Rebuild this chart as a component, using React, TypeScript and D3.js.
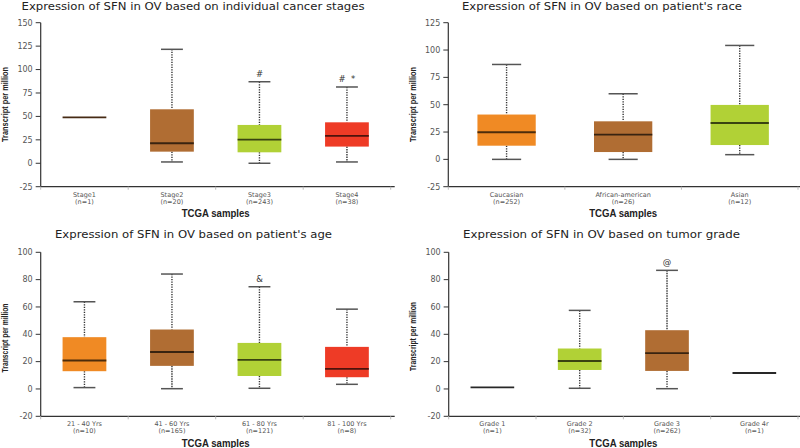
import React from "react";
import * as d3 from "d3";

const ORANGE = "#F08A24";
const BROWN = "#B06D33";
const GREEN = "#B1D136";
const RED = "#EE3B26";

// Panel 1: cancer stages
const stageCats = ["Stage1", "Stage2", "Stage3", "Stage4"];
const stageN = [1, 20, 243, 38];
const stageMin = [49, 1.4, 0, 1.4];
const stageQ1 = [49, 12.4, 11.7, 17.8];
const stageMed = [49, 21.3, 25.2, 29.2];
const stageQ3 = [49, 57.6, 40.9, 43.7];
const stageMax = [49, 121.6, 87, 81.4];
const stageMarks = ["", "", "#", "#  *"];
const stageTicks = [-25, 0, 25, 50, 75, 100, 125, 150];

// Panel 2: race
const raceCats = ["Caucasian", "African-american", "Asian"];
const raceN = [252, 26, 12];
const raceMin = [0, 0, 4.3];
const raceQ1 = [12.5, 6.7, 13.1];
const raceMed = [24.8, 22.6, 33.3];
const raceQ3 = [41, 34.8, 49.8];
const raceMax = [86.8, 60, 104.2];
const raceMarks = ["", "", ""];
const raceTicks = [-25, 0, 25, 50, 75, 100, 125];

// Panel 3: age
const ageCats = ["21 - 40 Yrs", "41 - 60 Yrs", "61 - 80 Yrs", "81 - 100 Yrs"];
const ageN = [10, 165, 121, 8];
const ageMin = [1, 0.2, 0.5, 3.4];
const ageQ1 = [13, 16.9, 9.5, 8.6];
const ageMed = [20.8, 27.1, 21.3, 14.7];
const ageQ3 = [37.9, 43.5, 33.7, 30.8];
const ageMax = [63.8, 84.1, 74.8, 58.4];
const ageMarks = ["", "", "&", ""];
const ageTicks = [-20, 0, 20, 40, 60, 80, 100];

// Panel 4: tumor grade
const gradeCats = ["Grade 1", "Grade 2", "Grade 3", "Grade 4r"];
const gradeN = [1, 32, 262, 1];
const gradeMin = [1.2, 0.5, 0.2, 11.7];
const gradeQ1 = [1.2, 13.9, 13.2, 11.7];
const gradeMed = [1.2, 20.5, 26.2, 11.7];
const gradeQ3 = [1.2, 29.6, 43, 11.7];
const gradeMax = [1.2, 57.5, 86.8, 11.7];
const gradeMarks = ["", "", "@", ""];
const gradeTicks = [-20, 0, 20, 40, 60, 80, 100];

type PanelProps = {
  title: string;
  titleX: number;
  titleY: number;
  titleLen: number;
  x0: number;
  x1: number;
  yTop: number;
  yBot: number;
  domain: [number, number];
  ticks: number[];
  cats: string[];
  n: number[];
  mins: number[];
  q1: number[];
  med: number[];
  q3: number[];
  maxs: number[];
  marks: string[];
  colors: string[];
  yTitleX: number;
  yTitleY: number;
  yTitleLen: number;
};

function Panel(p: PanelProps) {
  const x = d3.scaleBand<string>().domain(p.cats).range([p.x0, p.x1]).paddingInner(0).paddingOuter(0);
  const y = d3.scaleLinear().domain(p.domain).range([p.yBot, p.yTop]);
  const bw = x.bandwidth();
  const boxW = bw / 2;
  const capW = boxW / 2;
  const boundaries = d3.range(p.cats.length + 1).map((i) => p.x0 + i * bw);
  return (
    <g>
      <text
        x={p.titleX}
        y={p.titleY}
        textAnchor="middle"
        fontFamily="DejaVu Sans"
        fontSize={11}
        fill="#222"
        textLength={p.titleLen}
        lengthAdjust="spacingAndGlyphs"
      >
        {p.title}
      </text>
      {/* y axis */}
      <line x1={p.x0} x2={p.x0} y1={p.yTop} y2={p.yBot} stroke="#333" strokeWidth={1.2} />
      {p.ticks.map((t) => (
        <g key={t}>
          <line x1={p.x0 - 5} x2={p.x0} y1={y(t)} y2={y(t)} stroke="#333" strokeWidth={1} />
          <text
            x={p.x0 - 8}
            y={y(t)}
            dy="0.35em"
            textAnchor="end"
            fontFamily="DejaVu Sans"
            fontSize={8}
            fill="#555"
          >
            {t}
          </text>
        </g>
      ))}
      {/* x axis */}
      <line x1={p.x0} x2={p.x1 + 4} y1={p.yBot} y2={p.yBot} stroke="#333" strokeWidth={1.2} />
      {boundaries.map((b, i) => (
        <line key={i} x1={b} x2={b} y1={p.yBot} y2={p.yBot + 3} stroke="#bbb" strokeWidth={1} />
      ))}
      {p.cats.map((c, i) => {
        const cx = (x(c) as number) + bw / 2;
        const single = p.n[i] === 1;
        const fill = p.colors[i];
        const medColor = d3.color(fill)!.darker(3.2).formatHex();
        return (
          <g key={c}>
            {!single && (
              <>
                <line x1={cx} x2={cx} y1={y(p.maxs[i])} y2={y(p.q3[i])} stroke="#333" strokeWidth={1.4} strokeDasharray="1.3,1.2" />
                <line x1={cx} x2={cx} y1={y(p.q1[i])} y2={y(p.mins[i])} stroke="#333" strokeWidth={1.4} strokeDasharray="1.3,1.2" />
                <line x1={cx - capW / 2} x2={cx + capW / 2} y1={y(p.maxs[i])} y2={y(p.maxs[i])} stroke="#555" strokeWidth={1.5} />
                <line x1={cx - capW / 2} x2={cx + capW / 2} y1={y(p.mins[i])} y2={y(p.mins[i])} stroke="#555" strokeWidth={1.5} />
                <rect x={cx - boxW / 2} y={y(p.q3[i])} width={boxW} height={y(p.q1[i]) - y(p.q3[i])} fill={fill} />
              </>
            )}
            <line
              x1={cx - boxW / 2}
              x2={cx + boxW / 2}
              y1={y(p.med[i])}
              y2={y(p.med[i])}
              stroke={single ? d3.color(fill)!.darker(2.6).formatHex() : medColor}
              strokeWidth={1.9}
            />
            {p.marks[i] && (
              <text
                x={cx}
                y={y(p.maxs[i]) - 5}
                textAnchor="middle"
                fontFamily="DejaVu Sans"
                fontSize={8.5}
                fill="#333"
                style={{ whiteSpace: "pre" }}
              >
                {p.marks[i]}
              </text>
            )}
            <text x={cx} y={p.yBot + 10} textAnchor="middle" fontFamily="DejaVu Sans" fontSize={6.5} fill="#555">
              {c}
            </text>
            <text x={cx} y={p.yBot + 17} textAnchor="middle" fontFamily="DejaVu Sans" fontSize={6.5} fill="#555">
              (n={p.n[i]})
            </text>
          </g>
        );
      })}
      <text
        x={(p.x0 + p.x1) / 2}
        y={p.yBot + 30.5}
        textAnchor="middle"
        fontFamily="Liberation Sans"
        fontWeight="bold"
        fontSize={10}
        fill="#222"
        textLength={68}
        lengthAdjust="spacingAndGlyphs"
      >
        TCGA samples
      </text>
      <text
        transform={`translate(${p.yTitleX},${p.yTitleY}) rotate(-90)`}
        textAnchor="middle"
        fontFamily="Liberation Sans"
        fontWeight="bold"
        fontSize={8.5}
        fill="#222"
        textLength={p.yTitleLen}
        lengthAdjust="spacingAndGlyphs"
      >
        Transcript per million
      </text>
    </g>
  );
}

export default function App() {
  return (
    <svg width={800} height={448} style={{ position: "absolute", left: 0, top: 0, background: "#fff" }}>
      <rect width={800} height={448} fill="#fff" />
      <Panel
        title="Expression of SFN in OV based on individual cancer stages"
        titleX={193}
        titleY={10}
        titleLen={343}
        x0={40.7}
        x1={390.7}
        yTop={22.7}
        yBot={186.7}
        domain={[-25, 150]}
        ticks={stageTicks}
        cats={stageCats}
        n={stageN}
        mins={stageMin}
        q1={stageQ1}
        med={stageMed}
        q3={stageQ3}
        maxs={stageMax}
        marks={stageMarks}
        colors={[BROWN, BROWN, GREEN, RED]}
        yTitleX={7.5}
        yTitleY={104.5}
        yTitleLen={75}
      />
      <Panel
        title="Expression of SFN in OV based on patient's race"
        titleX={602}
        titleY={10}
        titleLen={280}
        x0={448.3}
        x1={798}
        yTop={22.7}
        yBot={186.7}
        domain={[-25, 125]}
        ticks={raceTicks}
        cats={raceCats}
        n={raceN}
        mins={raceMin}
        q1={raceQ1}
        med={raceMed}
        q3={raceQ3}
        maxs={raceMax}
        marks={raceMarks}
        colors={[ORANGE, BROWN, GREEN]}
        yTitleX={415.5}
        yTitleY={104.5}
        yTitleLen={75}
      />
      <Panel
        title="Expression of SFN in OV based on patient's age"
        titleX={193.5}
        titleY={237.5}
        titleLen={277}
        x0={40.7}
        x1={390.7}
        yTop={252.3}
        yBot={416.3}
        domain={[-20, 100]}
        ticks={ageTicks}
        cats={ageCats}
        n={ageN}
        mins={ageMin}
        q1={ageQ1}
        med={ageMed}
        q3={ageQ3}
        maxs={ageMax}
        marks={ageMarks}
        colors={[ORANGE, BROWN, GREEN, RED]}
        yTitleX={7.5}
        yTitleY={338}
        yTitleLen={69}
      />
      <Panel
        title="Expression of SFN in OV based on tumor grade"
        titleX={601.5}
        titleY={237.5}
        titleLen={277}
        x0={448.7}
        x1={798}
        yTop={252.3}
        yBot={416.3}
        domain={[-20, 100]}
        ticks={gradeTicks}
        cats={gradeCats}
        n={gradeN}
        mins={gradeMin}
        q1={gradeQ1}
        med={gradeMed}
        q3={gradeQ3}
        maxs={gradeMax}
        marks={gradeMarks}
        colors={["#666666", GREEN, BROWN, "#666666"]}
        yTitleX={415.5}
        yTitleY={336.5}
        yTitleLen={69}
      />
    </svg>
  );
}
